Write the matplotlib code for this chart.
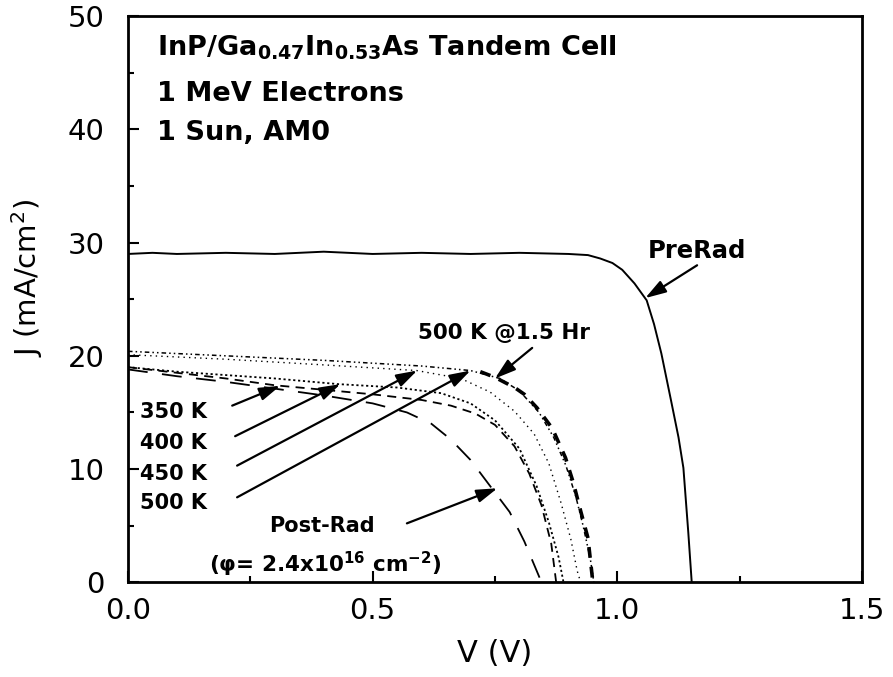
#!/usr/bin/env python
"""
plot.py
=======
J-V curves of an InP/GaInAs tandem cell, before and after 1 MeV electron
irradiation, plus thermal anneals.  Writes out.png.
"""
import matplotlib
matplotlib.use("Agg")
import matplotlib.pyplot as plt

# ──────────────────────────────────────────────────────────────────────────────
# Data
# ──────────────────────────────────────────────────────────────────────────────
v_prerad = [0.0, 0.05, 0.1, 0.2, 0.3, 0.4, 0.5, 0.6, 0.7, 0.8, 0.9, 0.94,
            0.965, 0.99, 1.01, 1.035, 1.06, 1.075, 1.09, 1.11, 1.125, 1.135,
            1.145, 1.152]
j_prerad = [29.0, 29.1, 29.0, 29.1, 29.0, 29.2, 29.0, 29.1, 29.0, 29.1, 29.0,
            28.9, 28.6, 28.2, 27.6, 26.4, 24.9, 22.8, 20.2, 16.0, 12.8, 10.1,
            4.4, 0.0]

v_postrad = [0.0, 0.1, 0.2, 0.3, 0.4, 0.5, 0.57, 0.62, 0.66, 0.70, 0.74,
             0.78, 0.81, 0.845]
j_postrad = [18.8, 18.2, 17.7, 17.1, 16.5, 15.8, 15.0, 14.0, 12.6, 10.8, 8.5,
             6.2, 3.6, 0.0]

v_350 = [0.0, 0.1, 0.2, 0.3, 0.4, 0.5, 0.6, 0.66, 0.71, 0.75, 0.79, 0.82,
         0.845, 0.865, 0.875]
j_350 = [19.0, 18.5, 18.0, 17.4, 17.0, 16.6, 16.1, 15.6, 14.9, 13.9, 12.0,
         9.6, 6.8, 3.4, 0.0]

v_400 = [0.0, 0.1, 0.2, 0.3, 0.43, 0.55, 0.64, 0.70, 0.75, 0.80, 0.835, 0.86,
         0.88, 0.89]
j_400 = [19.0, 18.6, 18.3, 18.0, 17.5, 17.2, 16.7, 15.8, 14.3, 11.8, 8.5, 5.3,
         2.2, 0.0]

v_450 = [0.0, 0.2, 0.4, 0.59, 0.68, 0.74, 0.79, 0.83, 0.86, 0.885, 0.905,
         0.918, 0.925]
j_450 = [20.1, 19.7, 19.2, 18.7, 18.0, 16.8, 15.1, 13.1, 10.5, 7.0, 3.8, 1.0,
         0.0]

v_500 = [0.0, 0.2, 0.4, 0.6, 0.70, 0.76, 0.80, 0.84, 0.87, 0.895, 0.915, 0.93,
         0.945, 0.952]
j_500 = [20.4, 20.0, 19.6, 19.1, 18.7, 18.0, 16.9, 15.0, 12.8, 10.3, 7.6, 5.0,
         2.0, 0.0]

# the 1.5 h anneal only separates from the 500 K curve past the knee
v_500_15h = [0.72, 0.75, 0.79, 0.81, 0.836, 0.867, 0.894, 0.91, 0.925, 0.94,
             0.95]
j_500_15h = [18.6, 18.1, 17.2, 16.6, 15.4, 13.6, 11.0, 8.8, 6.3, 3.9, 0.0]

info_lines = [r"InP/Ga$_{\mathbf{0.47}}$In$_{\mathbf{0.53}}$As Tandem Cell",
              "1 MeV Electrons",
              "1 Sun, AM0"]
info_y = [47.2, 43.1, 39.7]
anneal_labels = ["350 K", "400 K", "450 K", "500 K"]
x_ticks = [0.0, 0.5, 1.0, 1.5]
y_ticks = [0, 10, 20, 30, 40, 50]

plt.rcParams["font.family"] = ["DejaVu Sans"]
plt.rcParams["mathtext.default"] = "regular"

fig = plt.figure(figsize=(8.93, 6.77), dpi=100)
ax = fig.add_axes([0.1433, 0.140, 0.822, 0.836])

# ── curves
ax.plot(v_prerad, j_prerad, color="k", lw=1.4)
ax.plot(v_postrad, j_postrad, color="k", lw=1.3, dashes=(11, 8))
ax.plot(v_350, j_350, color="k", lw=1.3, dashes=(5, 3.5))
ax.plot(v_400, j_400, color="k", lw=1.3, dashes=(1.2, 1.5))
ax.plot(v_450, j_450, color="k", lw=1.0, dashes=(1, 3))
ax.plot(v_500, j_500, color="k", lw=1.1, dashes=(3, 2, 1, 2, 1, 2))
ax.plot(v_500_15h, j_500_15h, color="k", lw=2.6, dashes=(3, 2.5))

# ── axes
ax.set_xlim(0, 1.5)
ax.set_ylim(0, 50)
ax.set_xticks(x_ticks)
ax.set_xticklabels([f"{t:.1f}" for t in x_ticks])
ax.set_yticks(y_ticks)
ax.set_xticks([0.25, 0.75, 1.25], minor=True)
ax.set_yticks([5, 15, 25, 35, 45], minor=True)
ax.tick_params(which="both", direction="in", top=False, right=False,
               labelsize=21, width=1.5)
ax.tick_params(axis="x", which="major", length=8, pad=11)
ax.tick_params(axis="y", which="major", length=8, pad=17)
ax.tick_params(which="minor", length=4)
for sp in ax.spines.values():
    sp.set_linewidth(2)
ax.set_xlabel("V (V)", fontsize=22, labelpad=10)
ax.set_ylabel(r"J (mA/cm$^2$)", fontsize=21)
ax.yaxis.set_label_coords(-0.113, 0.538)

# ── text
for line, y in zip(info_lines, info_y):
    ax.text(0.06, y, line, fontsize=19.5, fontweight="bold",
            va="center", ha="left")

arrow = dict(arrowstyle="-|>,head_length=0.7,head_width=0.22", color="k",
             lw=1.6, mutation_scale=18, shrinkA=0, shrinkB=0)

ax.text(1.163, 29.3, "PreRad", fontsize=17.5, fontweight="bold",
        ha="center", va="center")
ax.annotate("", xy=(1.057, 25.1), xytext=(1.163, 28.0), arrowprops=arrow)

ax.text(0.593, 22.0, "500 K @1.5 Hr", fontsize=15.5, fontweight="bold",
        ha="left", va="center")
ax.annotate("", xy=(0.75, 18.0), xytext=(0.826, 20.7), arrowprops=arrow)

label_y = [15.0, 12.3, 9.6, 7.0]
arrow_from = [(0.213, 15.6), (0.219, 12.9), (0.223, 10.3), (0.223, 7.5)]
arrow_to = [(0.311, 17.35), (0.434, 17.5), (0.591, 18.7), (0.70, 18.7)]
for lab, y, p0, p1 in zip(anneal_labels, label_y, arrow_from, arrow_to):
    ax.text(0.025, y, lab, fontsize=15, fontweight="bold",
            ha="left", va="center")
    ax.annotate("", xy=p1, xytext=p0, arrowprops=arrow)

ax.text(0.397, 4.96, "Post-Rad", fontsize=15, fontweight="bold",
        ha="center", va="center")
ax.text(0.403, 1.6, r"($\varphi$= 2.4x10$^{\mathbf{16}}$ cm$^{\mathbf{-2}}$)",
        fontsize=15.5, fontweight="bold", ha="center", va="center")
ax.annotate("", xy=(0.755, 8.3), xytext=(0.57, 5.2), arrowprops=arrow)

fig.savefig("out.png", dpi=100)
plt.close(fig)
